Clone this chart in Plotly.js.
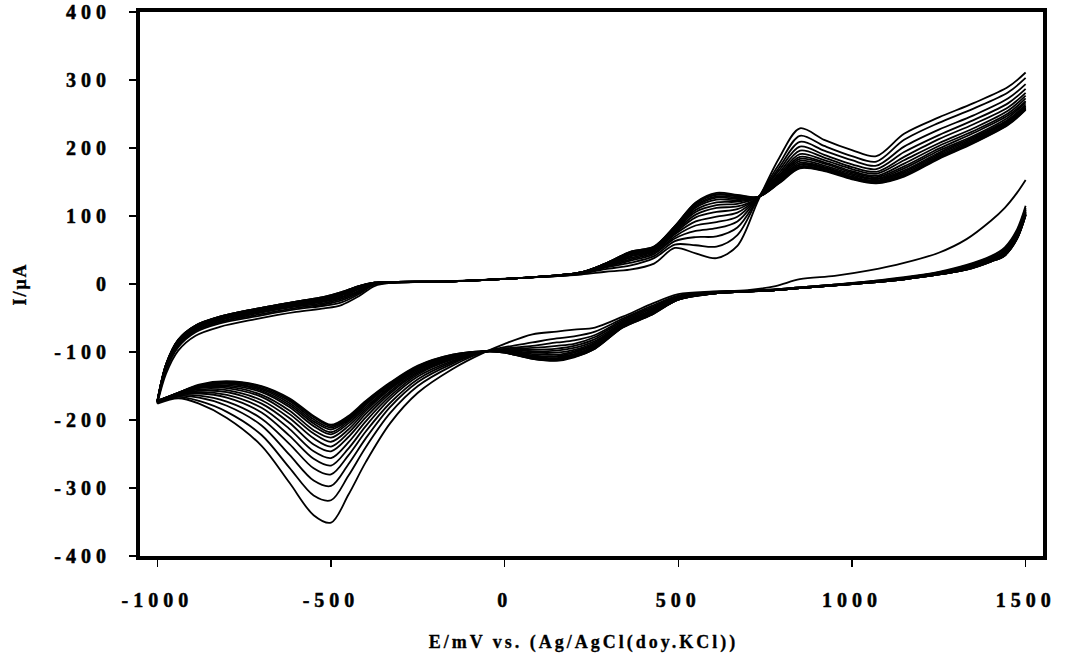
<!DOCTYPE html>
<html><head><meta charset="utf-8">
<script src="https://cdn.plot.ly/plotly-3.0.1.min.js"></script>
<style>
html,body{margin:0;padding:0;background:#fff;}
#chart{width:1065px;height:666px;}
.xtick text{letter-spacing:5px;stroke:#000;stroke-width:0.5px;}
.ytick text{letter-spacing:5px;stroke:#000;stroke-width:0.5px;}
.g-xtitle{transform:translateX(-8px);}
.g-xtitle text{letter-spacing:3px;stroke:#000;stroke-width:0.3px;}
.g-ytitle text{letter-spacing:2px;stroke:#000;stroke-width:0.3px;}
</style></head><body><div id="chart"></div><script>
// Potential grid (mV) for the positive-going and negative-going sweeps
const potentialFwd = [-1000,-975,-940,-890,-820,-720,-600,-520,-470,-420,-375,-320,-150,50,220,290,360,430,490,550,610,670,730,790,850,920,1000,1070,1150,1250,1350,1450,1500];
const potentialRev = [1500,1475,1440,1400,1330,1250,1150,1050,950,850,780,700,600,500,420,340,260,200,150,80,0,-60,-150,-250,-330,-400,-450,-500,-550,-620,-700,-800,-880,-940,-1000];

// Current (µA) per cycle: forward sweep values followed by reverse sweep values
const cycle01 = [-176,-132,-98,-76,-63,-52,-41,-36,-31,-18,-3,2,4,9,14,18,21,30,53,45,38,56,123,185,229,212,197,188,221,245,266,290,311,
 153,134,112,93,66,46,31,20,12,7,-3,-9,-11,-15,-30,-48,-64,-67,-70,-74,-88,-101,-125,-160,-205,-262,-310,-351,-340,-292,-238,-197,-176,-168,-176];
const cycle02 = [-175,-127,-93,-71,-58,-48,-37,-32,-27,-15,-1,2,4,9,15,22,27,38,58,57,55,72,126,176,218,203,188,180,212,237,258,282,303,
 115,80,54,41,28,18,10,4,-1,-5,-8,-10,-12,-17,-33,-51,-70,-77,-80,-86,-93,-100,-120,-150,-190,-240,-282,-318,-311,-270,-222,-188,-172,-166,-175];
const cycle03 = [-174,-125,-91,-69,-56,-46,-35,-30,-24,-13,0,2,4,9,15,24,31,41,63,69,70,83,126,171,209,196,182,174,202,227,248,273,294,
 112,77,52,40,27,17,9,4,-1,-5,-8,-10,-12,-18,-35,-53,-75,-83,-86,-91,-95,-100,-117,-144,-181,-227,-265,-297,-289,-251,-208,-179,-167,-165,-174];
const cycle04 = [-174,-124,-89,-68,-55,-44,-33,-28,-22,-11,0,2,4,9,16,25,34,44,67,78,82,92,127,167,202,190,176,169,194,219,241,266,287,
 110,75,50,38,26,17,9,3,-1,-5,-8,-10,-13,-19,-37,-55,-78,-88,-91,-94,-96,-100,-115,-140,-175,-217,-252,-280,-271,-235,-198,-173,-164,-164,-174];
const cycle05 = [-174,-123,-88,-66,-53,-43,-32,-26,-20,-10,0,2,4,9,16,26,36,46,70,86,91,99,127,163,196,186,172,165,187,213,235,260,281,
 109,74,48,37,25,16,9,3,-1,-5,-8,-10,-13,-20,-39,-57,-81,-91,-95,-97,-97,-100,-113,-136,-169,-209,-242,-267,-257,-223,-189,-167,-161,-163,-174];
const cycle06 = [-173,-122,-87,-65,-52,-42,-31,-25,-19,-8,1,2,4,9,16,27,38,48,73,92,99,105,127,160,191,182,169,162,182,207,229,255,277,
 107,72,47,37,24,16,8,3,-2,-6,-9,-11,-13,-20,-40,-58,-84,-94,-98,-99,-97,-100,-111,-133,-165,-202,-233,-256,-246,-213,-182,-163,-159,-163,-173];
const cycle07 = [-173,-121,-86,-65,-52,-41,-30,-24,-17,-7,1,3,4,9,16,27,40,49,75,98,106,110,127,158,187,179,166,159,177,203,225,251,273,
 106,71,46,36,24,15,8,3,-2,-6,-9,-11,-13,-21,-41,-59,-86,-97,-101,-101,-98,-99,-110,-131,-161,-196,-225,-246,-236,-204,-176,-159,-157,-162,-173];
const cycle08 = [-173,-121,-85,-64,-51,-40,-29,-23,-16,-6,1,3,4,9,16,28,41,50,77,102,112,114,127,156,184,177,164,157,173,199,222,248,269,
 105,70,45,35,23,15,8,3,-2,-6,-9,-11,-13,-21,-42,-60,-88,-99,-104,-103,-99,-99,-109,-129,-158,-191,-219,-239,-227,-197,-171,-156,-155,-162,-173];
const cycle09 = [-173,-120,-84,-63,-50,-39,-28,-22,-15,-6,1,3,4,9,17,28,43,51,79,106,116,118,128,154,181,174,162,155,170,196,218,245,267,
 104,69,45,35,23,15,8,3,-2,-6,-9,-11,-14,-22,-43,-61,-89,-101,-106,-105,-99,-99,-108,-127,-155,-187,-214,-232,-220,-191,-166,-153,-153,-161,-173];
const cycle10 = [-173,-120,-84,-63,-50,-39,-28,-21,-15,-5,1,3,4,9,17,29,44,52,80,109,120,121,128,153,178,172,160,154,167,193,216,242,264,
 103,68,44,34,22,15,8,2,-2,-6,-9,-11,-14,-22,-44,-62,-91,-103,-107,-106,-100,-99,-107,-125,-153,-184,-209,-226,-215,-186,-163,-151,-152,-161,-173];
const cycle11 = [-172,-119,-83,-62,-49,-38,-27,-21,-14,-5,2,3,4,9,17,29,44,53,81,112,124,123,128,152,176,171,158,152,165,191,214,240,262,
 103,68,44,34,22,14,7,2,-2,-6,-9,-11,-14,-22,-44,-62,-92,-104,-109,-107,-100,-99,-106,-124,-151,-181,-205,-221,-209,-181,-159,-149,-151,-161,-172];
const cycle12 = [-172,-119,-83,-62,-49,-38,-27,-20,-13,-4,2,3,4,9,17,29,45,53,82,114,127,125,128,151,175,170,157,151,163,189,212,239,261,
 102,67,43,34,22,14,7,2,-2,-6,-9,-11,-14,-22,-45,-63,-93,-105,-110,-108,-100,-99,-106,-123,-149,-178,-202,-218,-205,-178,-157,-147,-150,-161,-172];
const cycle13 = [-172,-119,-83,-62,-49,-38,-27,-20,-13,-4,2,3,4,9,17,30,46,54,83,116,129,127,128,150,173,168,156,150,161,187,210,237,259,
 102,67,43,34,22,14,7,2,-2,-6,-9,-11,-14,-23,-45,-63,-93,-106,-111,-108,-100,-99,-105,-122,-148,-176,-200,-214,-202,-175,-155,-146,-150,-160,-172];
const cycle14 = [-172,-118,-82,-61,-48,-37,-26,-20,-13,-3,2,3,4,9,17,30,46,54,84,118,131,129,128,149,172,168,155,149,160,186,209,236,258,
 102,67,42,33,21,14,7,2,-2,-6,-9,-11,-14,-23,-45,-63,-94,-107,-112,-109,-101,-99,-105,-121,-147,-175,-198,-211,-199,-172,-153,-145,-149,-160,-172];
const cycle15 = [-172,-118,-82,-61,-48,-37,-26,-19,-12,-3,2,3,4,9,17,30,47,55,85,119,132,130,128,149,171,167,155,149,159,185,208,235,257,
 101,66,42,33,21,14,7,2,-2,-6,-9,-11,-14,-23,-46,-64,-95,-107,-112,-110,-101,-99,-104,-121,-146,-173,-196,-209,-196,-170,-151,-144,-149,-160,-172];
const cycle16 = [-172,-118,-82,-61,-48,-37,-26,-19,-12,-3,2,3,4,9,17,30,47,55,85,120,134,131,128,148,170,166,154,148,158,184,207,234,256,
 101,66,42,33,21,14,7,2,-2,-6,-9,-11,-14,-23,-46,-64,-95,-108,-113,-110,-101,-99,-104,-120,-145,-172,-194,-207,-194,-168,-150,-143,-148,-160,-172];

const xTickVals = [-1000,-500,0,500,1000,1500];
const xTickText = ['-1000','-500','0','500','1000','1500'];
const yTickVals = [-400,-300,-200,-100,0,100,200,300,400];
const yTickText = ['-400','-300','-200','-100','0','100','200','300','400'];

const cycles = [cycle01,cycle02,cycle03,cycle04,cycle05,cycle06,cycle07,cycle08,cycle09,cycle10,cycle11,cycle12,cycle13,cycle14,cycle15,cycle16];
const nF = potentialFwd.length;
const traces = cycles.map(c => ({
  type: 'scatter', mode: 'lines',
  x: potentialFwd.concat([null], potentialRev),
  y: c.slice(0, nF).concat([null], c.slice(nF)),
  connectgaps: false,
  line: {color: '#000', width: 1.8, shape: 'spline', smoothing: 0.9},
  hoverinfo: 'skip', showlegend: false
}));

const serif = '"Liberation Serif", "Times New Roman", serif';
const tickFont = {family: serif, size: 20, color: '#000', weight: 'bold'};
const layout = {
  width: 1065, height: 666,
  paper_bgcolor: '#fff', plot_bgcolor: '#fff',
  margin: {l: 140, r: 22, t: 12, b: 110, pad: 0},
  showlegend: false,
  xaxis: {
    range: [-1050, 1550], tickvals: xTickVals, ticktext: xTickText,
    showgrid: false, zeroline: false, showline: true, linewidth: 4, linecolor: '#000', mirror: true,
    ticks: 'outside', ticklen: 7, tickwidth: 1.5, tickcolor: '#000',
    ticklabelstandoff: 16, tickfont: tickFont,
    title: {text: 'E/mV vs. (Ag/AgCl(doy.KCl))', font: {family: serif, size: 18, color: '#000', weight: 'bold'}, standoff: 26}
  },
  yaxis: {
    range: [-400, 400], tickvals: yTickVals, ticktext: yTickText,
    showgrid: false, zeroline: false, showline: true, linewidth: 4, linecolor: '#000', mirror: true,
    ticks: 'outside', ticklen: 7, tickwidth: 1.5, tickcolor: '#000',
    ticklabelstandoff: 14, tickfont: tickFont,
    title: {text: 'I/μA', font: {family: serif, size: 18, color: '#000', weight: 'bold'}, standoff: 24}
  }
};
Plotly.newPlot('chart', traces, layout, {displayModeBar: false, staticPlot: true});
</script></body></html>
